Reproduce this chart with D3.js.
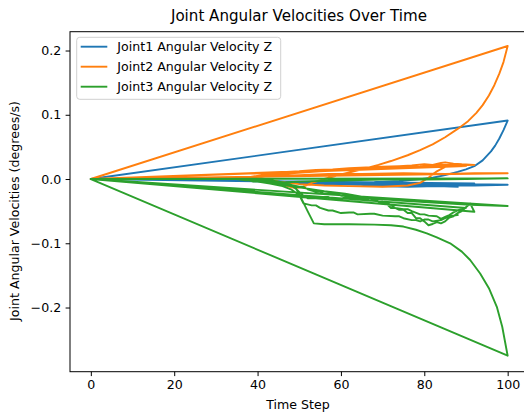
<!DOCTYPE html>
<html>
<head>
<meta charset="utf-8">
<script src="https://cdn.jsdelivr.net/npm/d3@7"></script>
<style>
  body { margin: 0; background: #fff; }
  svg { display: block; font-family: "DejaVu Sans", sans-serif; }
</style>
</head>
<body>
<div id="chart"></div>
<script>
// each series is a run of episodes; time step resets to 0 at every episode start
const seriesNames = ["Joint1 Angular Velocity Z", "Joint2 Angular Velocity Z", "Joint3 Angular Velocity Z"];
const seriesColors = ["#1f77b4", "#ff7f0e", "#2ca02c"];
const xTicks = [0, 20, 40, 60, 80, 100];
const yTicks = [-0.2, -0.1, 0.0, 0.1, 0.2];

const joint1 = [
  [[0,0],[38,0],[39,-0.002],[42,-0.002],[43,-0.004],[47,-0.004],[48,-0.006],[52,-0.005],[55,-0.007],[60,-0.006],[66,-0.008],[72,-0.007],[80,-0.008],[86,-0.007],[92,-0.007]],
  [[0,0],[40,0],[44,-0.003],[50,-0.005],[56,-0.006],[62,-0.006],[68,-0.005],[74,-0.003],[78,-0.001],[82,0.002],[85,0.006],[88,0.011],[90,0.015],[92,0.020],[94,0.029],[96,0.043],[97,0.052],[98,0.063],[99,0.076],[100,0.091]],
  [[0,0],[36,0],[37,-0.002],[41,-0.003],[44,-0.005],[49,-0.006],[53,-0.008],[58,-0.008],[64,-0.009],[70,-0.009],[78,-0.010],[85,-0.009],[92,-0.010],[100,-0.009]],
  [[0,0],[39,-0.001],[45,-0.004],[51,-0.004],[56,-0.006],[62,-0.008],[69,-0.011],[76,-0.012],[83,-0.011],[88,-0.012]]
];

const joint2 = [
  [[0,0],[36,0],[38,0.003],[41,0.006],[44,0.008],[47,0.011],[50,0.012],[54,0.014],[58,0.015],[62,0.017],[66,0.018],[70,0.019],[74,0.020],[77,0.021],[80,0.023],[82,0.022],[84,0.025],[85,0.026],[87,0.024],[89,0.023],[92,0.022]],
  [[0,0],[40,0],[43,-0.004],[46,-0.009],[49,-0.014],[51,-0.012],[53,-0.006],[56,0],[60,0.007],[65,0.015],[69,0.022],[72,0.028],[76,0.037],[79,0.045],[82,0.054],[85,0.065],[88,0.078],[90.5,0.090],[92.5,0.103],[94,0.115],[95.5,0.130],[96.8,0.146],[98,0.164],[99,0.182],[100,0.207]],
  [[0,0],[38,0],[41,0.003],[45,0.005],[50,0.006],[57,0.008],[65,0.008],[75,0.009],[85,0.008],[92,0.009],[100,0.009]],
  [[0,0],[42,0],[45,-0.004],[50,-0.008],[56,-0.010],[62,-0.011],[70,-0.012],[76,-0.010],[79,-0.006],[81,0.002],[83,0.012],[85,0.019],[88,0.021],[90,0.020]],
  [[0,0],[37,0.001],[42,0.005],[48,0.009],[55,0.012],[61,0.014],[68,0.016],[74,0.018],[79,0.019],[83,0.021],[86,0.023],[88,0.021]]
];

const joint3 = [
  [[0,0],[35,0],[37,-0.002],[38,-0.002],[39,-0.004],[41,-0.004],[42,-0.006],[43,-0.005],[45,-0.005],[46,-0.007],[47,-0.005],[50,-0.004],[55,-0.003],[62,-0.002],[70,-0.001],[80,-0.001],[90,0],[100,0.001]],
  [[0,0],[38,0],[40,-0.003],[41,-0.003],[42,-0.005],[44,-0.005],[45,-0.008],[47,-0.008],[48,-0.010],[49,-0.014],[50,-0.020],[51,-0.026],[52,-0.030],[54,-0.030],[55,-0.028],[57,-0.028],[58,-0.031],[60,-0.031],[61,-0.029],[63,-0.029],[64,-0.032],[66,-0.032],[67,-0.030],[68,-0.030],[69,-0.035],[70,-0.035],[71,-0.039],[72,-0.045],[73,-0.045],[74,-0.048],[75,-0.048],[76,-0.053],[77,-0.053],[78,-0.061],[79,-0.061],[80,-0.066],[81,-0.072],[82,-0.070],[83,-0.067],[84,-0.069],[85,-0.066],[86,-0.060],[87,-0.058],[88,-0.053],[89,-0.050],[90,-0.044],[91,-0.038],[92,-0.051]],
  [[0,0],[40,0],[44,-0.003],[47,-0.006],[49,-0.012],[50.5,-0.030],[52,-0.050],[53.5,-0.069],[56,-0.0705],[62,-0.0705],[68,-0.071],[72,-0.072],[75,-0.074],[78,-0.079],[80.6,-0.0845],[83,-0.091],[86.2,-0.100],[89,-0.113],[91,-0.126],[93.4,-0.147],[95.5,-0.170],[97.4,-0.199],[98.7,-0.230],[100,-0.275]],
  [[0,0],[39,0],[41,-0.002],[43,-0.005],[46,-0.006],[48,-0.009],[50,-0.012],[51,-0.012],[52,-0.016],[54,-0.020],[55,-0.020],[56,-0.023],[58,-0.022],[59,-0.022],[60,-0.026],[62,-0.026],[63,-0.029],[66,-0.030],[67,-0.030],[68,-0.033],[70,-0.037],[71,-0.037],[73,-0.045],[75,-0.047],[76,-0.047],[77,-0.050],[79,-0.055],[80,-0.055],[81,-0.057],[83,-0.058],[84,-0.062],[85,-0.059],[86,-0.056],[87,-0.052],[88,-0.049],[89,-0.047],[90,-0.045]],
  [[0,0],[39,0],[42,-0.004],[45,-0.008],[48,-0.011],[52,-0.015],[56,-0.019],[61,-0.023],[67,-0.030],[75,-0.034],[83,-0.037],[91,-0.040],[100,-0.042]],
  [[0,0],[38,0],[40,-0.004],[43,-0.007],[46,-0.011],[48,-0.016],[50,-0.025],[51,-0.038],[53,-0.041],[54,-0.041],[55,-0.045],[57,-0.049],[58,-0.049],[60,-0.053],[62,-0.052],[63,-0.052],[64,-0.055],[67,-0.054],[68,-0.054],[70,-0.057],[73,-0.058],[74,-0.058],[75,-0.061],[77,-0.064],[78,-0.064],[79,-0.066],[80,-0.063],[81,-0.063],[82,-0.066],[84,-0.064],[85,-0.061],[86,-0.058],[88,-0.056]]
];

const allSeries = [joint1, joint2, joint3];

const W = 524, H = 415;
const plotLeft = 70, plotTop = 31.7, plotRight = 528.5, plotBottom = 371.7;

const svg = d3.select("#chart").append("svg")
  .attr("width", W).attr("height", H);

const x = d3.scaleLinear().domain([-5, 105]).range([plotLeft, plotRight]);
const y = d3.scaleLinear().domain([-0.2999, 0.2293]).range([plotBottom, plotTop]);

svg.append("defs").append("clipPath").attr("id", "plot")
  .append("rect").attr("x", plotLeft).attr("y", plotTop)
  .attr("width", plotRight - plotLeft).attr("height", plotBottom - plotTop);

const line = d3.line().x(d => x(d[0])).y(d => y(d[1]));

// one continuous polyline per joint, episodes joined back to back
svg.append("g").attr("clip-path", "url(#plot)")
  .selectAll("path")
  .data(allSeries)
  .join("path")
  .attr("d", eps => line(eps.flat()))
  .attr("fill", "none")
  .attr("stroke", (d, i) => seriesColors[i])
  .attr("stroke-width", 1.9)
  .attr("stroke-linejoin", "round")
  .attr("stroke-linecap", "square");

// axes
const xAxis = svg.append("g")
  .attr("transform", `translate(0,${plotBottom})`)
  .call(d3.axisBottom(x).tickValues(xTicks).tickSize(4.4).tickSizeOuter(0).tickPadding(4.4));
const yAxis = svg.append("g")
  .attr("transform", `translate(${plotLeft},0)`)
  .call(d3.axisLeft(y).tickValues(yTicks).tickFormat(d3.format(".1f")).tickSize(4.4).tickSizeOuter(0).tickPadding(4.4));

[xAxis, yAxis].forEach(a => {
  a.select(".domain").remove();
  a.selectAll("line").attr("stroke", "#000").attr("stroke-width", 1);
  a.selectAll("text").attr("fill", "#000").style("font-size", "12.6px")
    .style("font-family", "DejaVu Sans");
});

// spines
svg.append("rect")
  .attr("x", plotLeft).attr("y", plotTop)
  .attr("width", plotRight - plotLeft).attr("height", plotBottom - plotTop)
  .attr("fill", "none").attr("stroke", "#000").attr("stroke-width", 1);

svg.append("text")
  .attr("x", 299).attr("y", 21)
  .attr("text-anchor", "middle")
  .style("font-size", "15.1px")
  .text("Joint Angular Velocities Over Time");

svg.append("text")
  .attr("x", 298).attr("y", 408.5)
  .attr("text-anchor", "middle")
  .style("font-size", "12.6px")
  .text("Time Step");

svg.append("text")
  .attr("transform", "translate(19,211) rotate(-90)")
  .attr("text-anchor", "middle")
  .style("font-size", "12.6px")
  .text("Joint Angular Velocities (degrees/s)");

// legend
const legend = svg.append("g");
legend.append("rect")
  .attr("x", 76.7).attr("y", 37.3)
  .attr("width", 204).attr("height", 62)
  .attr("rx", 3)
  .attr("fill", "#fff").attr("fill-opacity", 0.8)
  .attr("stroke", "#d0d0d0").attr("stroke-width", 1);

const rows = legend.selectAll("g.row")
  .data(seriesNames)
  .join("g")
  .attr("class", "row")
  .attr("transform", (d, i) => `translate(0,${46.7 + i * 20})`);

rows.append("line")
  .attr("x1", 80.7).attr("x2", 107.3)
  .attr("stroke", (d, i) => seriesColors[i])
  .attr("stroke-width", 1.9);

rows.append("text")
  .attr("x", 117.3).attr("dy", "0.35em")
  .style("font-size", "12.6px")
  .text(d => d);
</script>
</body>
</html>
